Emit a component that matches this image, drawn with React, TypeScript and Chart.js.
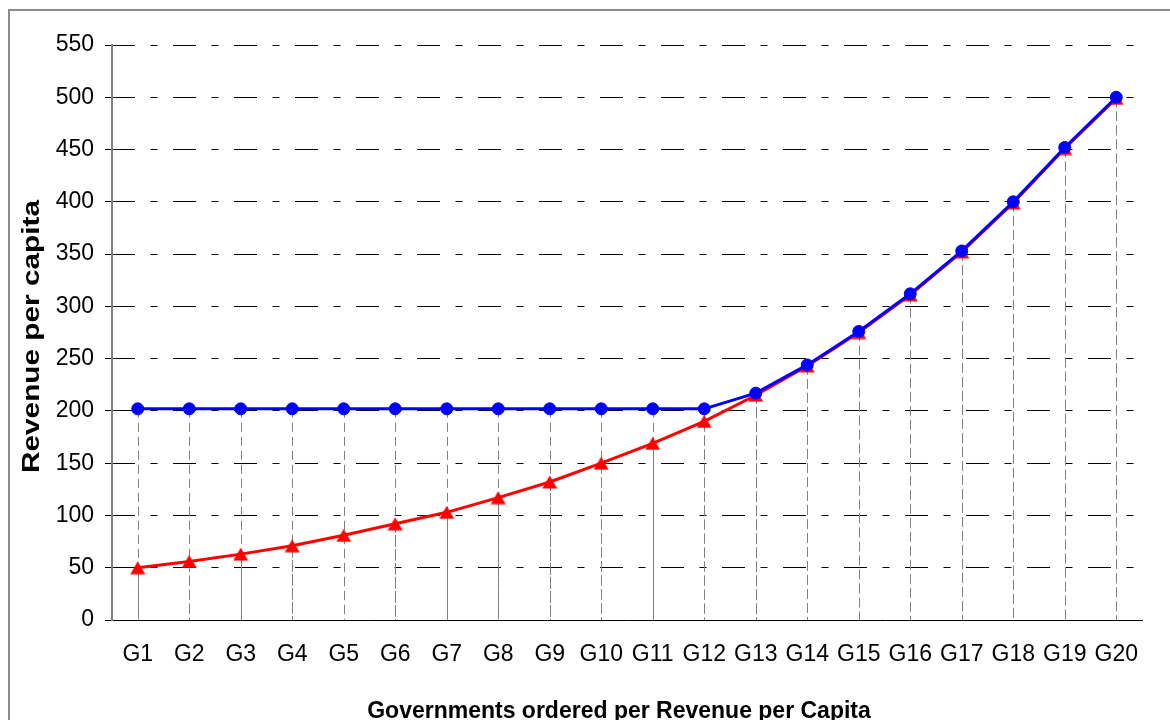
import React, { useEffect, useRef } from 'react';
import { Chart, registerables } from 'chart.js';

Chart.register(...registerables);

const categories = ['G1', 'G2', 'G3', 'G4', 'G5', 'G6', 'G7', 'G8', 'G9', 'G10', 'G11', 'G12', 'G13', 'G14', 'G15', 'G16', 'G17', 'G18', 'G19', 'G20'];
const revenueBefore = [50, 56, 63, 71, 81, 92, 103, 117, 132, 150, 169, 190, 215, 243, 275, 311, 352, 399, 451, 499];
const revenueAfter = [202, 202, 202, 202, 202, 202, 202, 202, 202, 202, 202, 202, 217, 244, 276, 312, 353, 400, 452, 500];
const yMin = 0;
const yMax = 550;
const yStep = 50;
const xTitle = 'Governments ordered per Revenue per Capita';
const yTitle = 'Revenue per capita';

const FONT = '"Liberation Sans", Arial, Helvetica, sans-serif';

function makeTriangle(color: string): HTMLCanvasElement {
  const c = document.createElement('canvas');
  c.width = 16;
  c.height = 14;
  const g = c.getContext('2d')!;
  g.fillStyle = color;
  g.beginPath();
  g.moveTo(8, 0.5);
  g.lineTo(15.5, 13.5);
  g.lineTo(0.5, 13.5);
  g.closePath();
  g.fill();
  return c;
}

const decorPlugin = {
  id: 'decor',
  beforeDraw(chart: any) {
    const { ctx, chartArea: a, scales } = chart;
    const ys = scales.y;
    ctx.save();
    // outer frame
    ctx.strokeStyle = '#8c8c8c';
    ctx.lineWidth = 2;
    ctx.strokeRect(9, 10, 1400, 1000);
    // horizontal dash-dot grid lines
    ctx.strokeStyle = '#000000';
    ctx.lineWidth = 1;
    ctx.setLineDash([23, 15.5, 7, 15.5]);
    ys.ticks.forEach((t: any) => {
      if (t.value === yMin) return;
      const py = Math.floor(ys.getPixelForValue(t.value)) + 0.5;
      ctx.beginPath();
      ctx.moveTo(a.left, py);
      ctx.lineTo(a.right, py);
      ctx.stroke();
    });
    // drop lines from every point to the category axis
    ctx.strokeStyle = '#808080';
    ctx.setLineDash([9, 5]);
    chart.data.datasets.forEach((_ds: any, i: number) => {
      const meta = chart.getDatasetMeta(i);
      meta.data.forEach((pt: any) => {
        const px = Math.round(pt.x) + 0.5;
        ctx.beginPath();
        ctx.moveTo(px, pt.y);
        ctx.lineTo(px, a.bottom);
        ctx.stroke();
      });
    });
    ctx.restore();
  },
  afterDraw(chart: any) {
    const { ctx } = chart;
    ctx.save();
    ctx.fillStyle = '#000000';
    ctx.font = `bold 23px ${FONT}`;
    ctx.textAlign = 'center';
    ctx.textBaseline = 'alphabetic';
    ctx.fillText(xTitle, 619, 718);
    ctx.font = `bold 24px ${FONT}`;
    const w = ctx.measureText(yTitle).width;
    ctx.translate(39, 336.5);
    ctx.rotate(-Math.PI / 2);
    ctx.scale(273 / w, 1);
    ctx.fillText(yTitle, 0, 0);
    ctx.restore();
  },
};

export default function App() {
  const ref = useRef<HTMLCanvasElement | null>(null);

  useEffect(() => {
    if (!ref.current) return;
    const tri = makeTriangle('#ff0000');
    const chart = new Chart(ref.current, {
      type: 'line',
      data: {
        labels: categories,
        datasets: [
          {
            label: 'After',
            data: revenueAfter,
            borderColor: '#0000ff',
            backgroundColor: '#0000ff',
            borderWidth: 3,
            pointStyle: 'circle',
            pointRadius: 6,
            pointBorderWidth: 1,
            pointBackgroundColor: '#0000ff',
            pointBorderColor: '#0000ff',
            tension: 0,
            fill: false,
          },
          {
            label: 'Before',
            data: revenueBefore,
            borderColor: '#ff0000',
            backgroundColor: '#ff0000',
            borderWidth: 3,
            pointStyle: tri as any,
            pointRadius: 8,
            tension: 0,
            fill: false,
          },
        ],
      },
      options: {
        responsive: false,
        animation: false,
        devicePixelRatio: 1,
        layout: { padding: { left: 0, top: 45, right: 28, bottom: 0 } },
        plugins: { legend: { display: false }, tooltip: { enabled: false } },
        scales: {
          x: {
            type: 'category',
            offset: true,
            afterFit: (s: any) => { s.height = 100; },
            grid: { display: true, drawOnChartArea: false, drawTicks: false, color: 'rgba(0,0,0,0)' },
            border: { display: true, color: '#000000', width: 1 },
            ticks: {
              font: { family: FONT, size: 23 },
              color: '#000000',
              padding: 21,
              maxRotation: 0,
              autoSkip: false,
            },
          },
          y: {
            min: yMin,
            max: yMax,
            afterFit: (s: any) => { s.width = 112; },
            grid: { display: true, drawOnChartArea: false, drawTicks: true, tickLength: 7, tickColor: '#000000', tickWidth: 1, color: '#000000' },
            border: { display: true, color: '#808080', width: 2 },
            ticks: {
              stepSize: yStep,
              font: { family: FONT, size: 23 },
              color: '#000000',
              padding: 11,
            },
          },
        },
      },
      plugins: [decorPlugin],
    });
    return () => chart.destroy();
  }, []);

  return (
    <div style={{ position: 'fixed', left: 0, top: 0, width: 1170, height: 720, background: '#ffffff' }}>
      <canvas ref={ref} width={1170} height={720} style={{ width: 1170, height: 720, display: 'block' }} />
    </div>
  );
}
